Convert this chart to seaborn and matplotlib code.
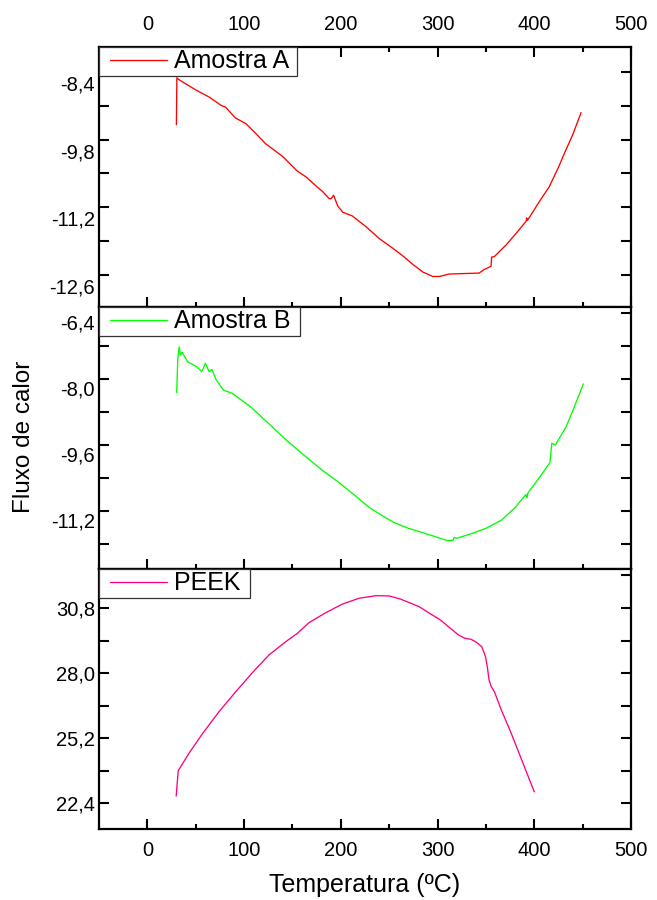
import matplotlib
matplotlib.use("Agg")
import matplotlib.pyplot as plt
import matplotlib.transforms as mtransforms
from matplotlib.ticker import FixedLocator, MultipleLocator, FuncFormatter
from matplotlib.legend_handler import HandlerLine2D
from matplotlib.lines import Line2D
import seaborn as sns
import pandas as pd

# ---------------- data ----------------
temp_a = [30, 30.5, 32, 40, 50, 64, 72, 76, 81, 86, 91, 102, 112, 122, 130, 140,
          155, 164, 175, 181, 188, 190, 192.6, 195, 197, 202, 212, 226, 240, 254,
          265, 275, 285, 295, 302, 312, 343, 348, 355.3, 355.9, 358.7, 370.8,
          381.2, 391.5, 392.2, 393, 405.3, 415.6, 425.3, 431.2, 439.7, 448.4]
flux_a = [-9.49, -8.52, -8.55, -8.65, -8.77, -8.92, -9.03, -9.09, -9.13, -9.24,
          -9.35, -9.47, -9.67, -9.88, -10.0, -10.15, -10.45, -10.57, -10.77, -10.87,
          -11.02, -11.02, -10.95, -11.08, -11.18, -11.30, -11.38, -11.60, -11.85,
          -12.05, -12.22, -12.39, -12.54, -12.63, -12.63, -12.58, -12.56, -12.49,
          -12.42, -12.23, -12.22, -11.98, -11.74, -11.49, -11.42, -11.47, -11.08,
          -10.77, -10.36, -10.08, -9.70, -9.24]

temp_b = [30.3, 31.5, 32.9, 34.1, 35.9, 41.5, 50.7, 56.3, 60, 63.8, 66.7, 71.1,
          78.6, 87.9, 106.4, 125, 143.5, 162, 180.7, 199.2, 215, 229, 242, 255,
          270, 292, 300, 310.5, 316, 317.2, 320, 336.4, 350, 366.2, 380, 391.5,
          392.5, 393.5, 404, 416.2, 418.1, 421.8, 432.9, 441, 450.7]
flux_b = [-8.33, -7.50, -7.22, -7.42, -7.35, -7.58, -7.70, -7.82, -7.62, -7.82,
          -7.77, -8.02, -8.27, -8.35, -8.67, -9.07, -9.48, -9.85, -10.21, -10.53,
          -10.83, -11.11, -11.30, -11.48, -11.62, -11.78, -11.84, -11.92, -11.91,
          -11.84, -11.86, -11.74, -11.62, -11.42, -11.12, -10.80, -10.88, -10.76,
          -10.43, -10.03, -9.56, -9.60, -9.16, -8.70, -8.12]

temp_peek = [29.8, 31.9, 43.0, 56.7, 74.0, 91.3, 108.5, 125.8, 143.1, 155.1, 167.2,
             184.5, 201.7, 218.9, 236.2, 250, 262, 280.8, 290, 303.1, 312, 321.6,
             328, 334.6, 340, 345.8, 349.6, 351.5, 353.2, 355.5, 358.8, 366, 375.5,
             388, 400]
flux_peek = [22.70, 23.79, 24.54, 25.37, 26.33, 27.19, 28.01, 28.78, 29.35, 29.71,
             30.17, 30.60, 30.97, 31.22, 31.33, 31.32, 31.18, 30.86, 30.62, 30.28,
             29.97, 29.64, 29.50, 29.45, 29.33, 29.13, 28.70, 28.25, 27.70, 27.42,
             27.19, 26.40, 25.47, 24.15, 22.88]

series_names = ["Amostra A", "Amostra B", "PEEK"]
series_colors = ["#FF0000", "#00FF00", "#FF0080"]
x_ticks = [0, 100, 200, 300, 400, 500]
y_ticks = [[-8.4, -9.8, -11.2, -12.6], [-6.4, -8.0, -9.6, -11.2], [30.8, 28.0, 25.2, 22.4]]
y_minor = [0.7, 0.8, 1.4]
y_lims = [(-13.262, -7.883), (-12.606, -6.255), (21.28, 32.48)]

x_label = "Temperatura (ºC)"
y_label = "Fluxo de calor"

# ---------------- style ----------------
sns.set_theme(style="ticks")
plt.rcParams["font.family"] = ["Liberation Sans", "DejaVu Sans"]
plt.rcParams["axes.unicode_minus"] = False
plt.rcParams["text.color"] = "black"
plt.rcParams["axes.labelcolor"] = "black"

W, H = 657, 900
fig = plt.figure(figsize=(W / 100, H / 100), dpi=100)

left, right = 99 / W, 631 / W
bounds = [(47, 307), (307, 569), (569, 829)]

frames = [pd.DataFrame({"T": temp_a, "F": flux_a}),
          pd.DataFrame({"T": temp_b, "F": flux_b}),
          pd.DataFrame({"T": temp_peek, "F": flux_peek})]

fmt = FuncFormatter(lambda v, p: f"{v:.1f}".replace(".", ","))
label_shift = [11, 9, 0]

axes = []
for i, (top_px, bot_px) in enumerate(bounds):
    ax = fig.add_axes([left, 1 - bot_px / H, right - left, (bot_px - top_px) / H])
    axes.append(ax)
    sns.lineplot(data=frames[i], x="T", y="F", ax=ax, color=series_colors[i],
                 linewidth=0.95, sort=False, estimator=None, label=series_names[i])
    ax.set_xlim(-50, 500)
    ax.set_ylim(*y_lims[i])
    ax.set_xlabel("")
    ax.set_ylabel("")
    for s in ax.spines.values():
        s.set_linewidth(1.6)
        s.set_color("black")
        s.set_visible(True)
    ax.xaxis.set_major_locator(FixedLocator(x_ticks))
    ax.xaxis.set_minor_locator(MultipleLocator(50))
    ax.yaxis.set_major_locator(FixedLocator(y_ticks[i]))
    ax.yaxis.set_minor_locator(MultipleLocator(y_minor[i]))
    ax.yaxis.set_major_formatter(fmt)
    ax.tick_params(axis="both", which="both", direction="in", width=1.5,
                   colors="black", labelsize=14.5)
    ax.tick_params(axis="y", which="both", left=True, right=True, length=7,
                   labelleft=True, labelright=False, pad=3)
    ax.tick_params(axis="x", which="major", length=7, pad=9)
    ax.tick_params(axis="x", which="minor", length=3.5)
    ax.tick_params(axis="x", which="both",
                   top=(i == 0), labeltop=(i == 0),
                   bottom=True, labelbottom=(i == 2))
    handle = Line2D([], [], color=series_colors[i], linewidth=0.95)
    leg = ax.legend([handle], [series_names[i] + " "],
                    loc="upper left", bbox_to_anchor=(0, 1), borderaxespad=0,
                    fontsize=18, frameon=True, fancybox=False, framealpha=1,
                    edgecolor="#333333", borderpad=0.1, handlelength=2.62,
                    handletextpad=0.27, labelcolor="black",
                    handler_map={Line2D: HandlerLine2D(xpad=0.34)})
    leg.get_frame().set_linewidth(0.9)
    leg.set_zorder(5)
    ax.grid(False)

fig.text((99 + 631) / 2 / W, 1 - 885 / H, x_label, ha="center", va="center",
         fontsize=18, color="black")
fig.text(24 / W, 1 - 437 / H, y_label, ha="center", va="center",
         rotation=90, fontsize=17.5, color="black")

fig.canvas.draw()
for i, ax in enumerate(axes):
    if label_shift[i]:
        off = mtransforms.ScaledTranslation(0, -label_shift[i] / 100, fig.dpi_scale_trans)
        for t in ax.yaxis.get_major_ticks():
            t.label1.set_transform(t.label1.get_transform() + off)

fig.savefig("out.png", dpi=100, facecolor="white")
